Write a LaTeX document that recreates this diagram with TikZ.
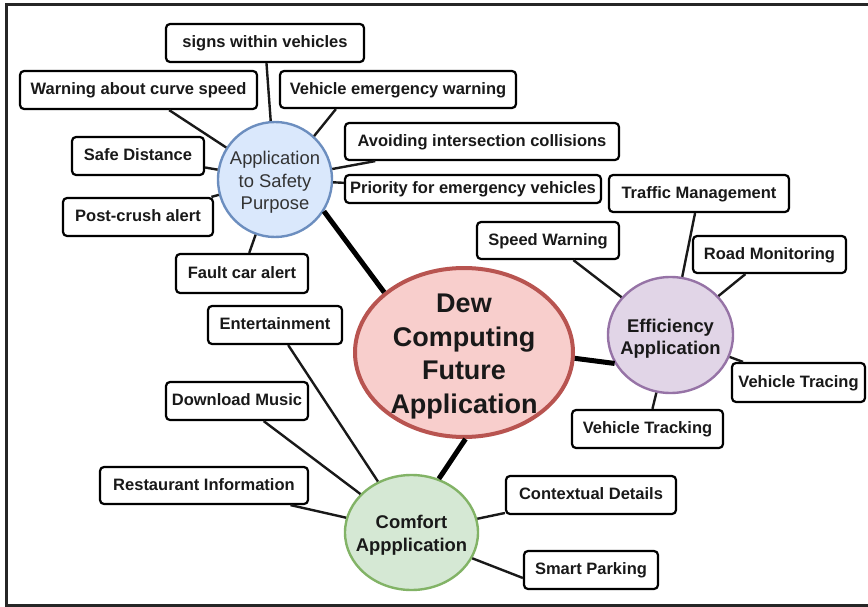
\documentclass[tikz,border=0pt]{standalone}
\usepackage{fontspec}
\setmainfont{Liberation Sans}
\usetikzlibrary{shapes.geometric}
\definecolor{cfill}{HTML}{F8CECC}\definecolor{cline}{HTML}{B85450}
\definecolor{sfill}{HTML}{DAE8FC}\definecolor{sline}{HTML}{6C8EBF}
\definecolor{efill}{HTML}{E1D5E7}\definecolor{eline}{HTML}{9673A6}
\definecolor{gfill}{HTML}{D5E8D4}\definecolor{gline}{HTML}{82B366}
\begin{document}
\begin{tikzpicture}[x=1pt,y=-1pt,
  box/.style={draw=black, line width=2.2pt, rounded corners=4pt, fill=white,
    font=\fontsize{16.5}{19}\selectfont\bfseries, minimum height=37pt,
    text height=12pt, text depth=2.2pt,
    inner xsep=2pt, inner ysep=0pt, align=center, text=black!90},
  link/.style={line width=2.4pt, black!90},
  biglink/.style={line width=5pt, black},
  hub/.style={ellipse, line width=2.4pt, inner sep=0pt},
  hubtext/.style={align=center, inner sep=0pt, text=black!90},
]
\useasboundingbox (0,0) rectangle (868,607);
\draw[line width=3pt, black!85] (868,5) -- (6,5) -- (6,605) -- (868,605);

% hubs
\node[hub, draw=cline, fill=cfill, line width=4pt, minimum width=218pt, minimum height=169pt] (central) at (464,352.5) {};
\node[hubtext, font=\fontsize{27}{33.5}\selectfont\bfseries] (centraltxt) at (464,356.5) {Dew\\Computing\\Future\\Application};

\node[hub, draw=sline, fill=sfill, minimum width=114pt, minimum height=115pt] (safety) at (275,179.5) {};
\node[hubtext, font=\fontsize{18.4}{22.5}\selectfont, text=black!80] (safetytxt) at (275,182.5) {Application\\to Safety\\Purpose};

\node[hub, draw=eline, fill=efill, minimum width=125pt, minimum height=116pt] (eff) at (670.5,335) {};
\node[hubtext, font=\fontsize{18.4}{22}\selectfont\bfseries] (efftxt) at (670.5,338.5) {Efficiency\\Application};

\node[hub, draw=gline, fill=gfill, minimum width=133pt, minimum height=115pt] (comfort) at (411.5,532.5) {};
\node[hubtext, font=\fontsize{18.4}{23}\selectfont\bfseries] (comforttxt) at (411.5,535) {Comfort\\Appplication};

% safety boxes
\node[box, minimum width=198pt, minimum height=38pt] (signs) at (265,43) {signs within vehicles};
\node[box, minimum width=237pt, minimum height=38pt] (warn) at (138.5,90) {Warning about curve speed};
\node[box, minimum width=236pt] (ve) at (398,89.5) {Vehicle emergency warning};
\node[box, minimum width=132pt, minimum height=38pt] (safe) at (138,156) {Safe Distance};
\node[box, minimum width=150pt, minimum height=38pt] (post) at (138,217) {Post-crush alert};
\node[box, minimum width=132pt, minimum height=39pt] (fault) at (242,273.5) {Fault car alert};
\node[box, minimum width=274pt] (avoid) at (482,141.5) {Avoiding intersection collisions};
\node[box, minimum width=256pt, minimum height=28pt, inner xsep=1pt] (prio) at (473,189) {Priority for emergency vehicles};

% efficiency boxes
\node[box, minimum width=180pt] (traffic) at (699,193.5) {Traffic Management};
\node[box, minimum width=142pt] (speed) at (548,240.5) {Speed Warning};
\node[box, minimum width=153pt] (road) at (769.5,254.5) {Road Monitoring};
\node[box, minimum width=133pt, minimum height=39pt] (tracing) at (798.5,382.5) {Vehicle Tracing};
\node[box, minimum width=151pt, minimum height=38pt] (tracking) at (647.5,429) {Vehicle Tracking};

% comfort boxes
\node[box, minimum width=134pt, minimum height=38pt] (ent) at (275,325) {Entertainment};
\node[box, minimum width=142pt, minimum height=38pt] (dl) at (237,401) {Download Music};
\node[box, minimum width=208pt] (rest) at (204,485.5) {Restaurant Information};
\node[box, minimum width=170pt, minimum height=38pt] (ctx) at (591,495) {Contextual Details};
\node[box, minimum width=134pt, minimum height=38pt] (sp) at (591,570) {Smart Parking};

% connectors
\draw[link] (safety) -- (signs);
\draw[link] (safety) -- (warn);
\draw[link] (safety.48) -- ([xshift=57pt]ve.south west);
\draw[link] (safety) -- (safe);
\draw[link] (safety) -- (post);
\draw[link] (safety) -- (fault);
\draw[link] (safety) -- (avoid);
\draw[link] (safety) -- (prio);

\draw[biglink] (safety.-33) -- (central.143);
\draw[biglink] (central.-3) -- (eff.207);
\draw[biglink] (central.-89) -- (comfort.63);

\draw[link] (eff) -- (traffic);
\draw[link] (eff) -- (speed);
\draw[link] (eff) -- (road);
\draw[link] (eff) -- (tracing);
\draw[link] (eff) -- (tracking);

\draw[link] (comfort) -- (ent);
\draw[link] (comfort) -- (dl);
\draw[link] (comfort) -- (rest);
\draw[link] (comfort) -- (ctx);
\draw[link] (comfort.-23) -- ([yshift=-8pt]sp.west);
\end{tikzpicture}
\end{document}
